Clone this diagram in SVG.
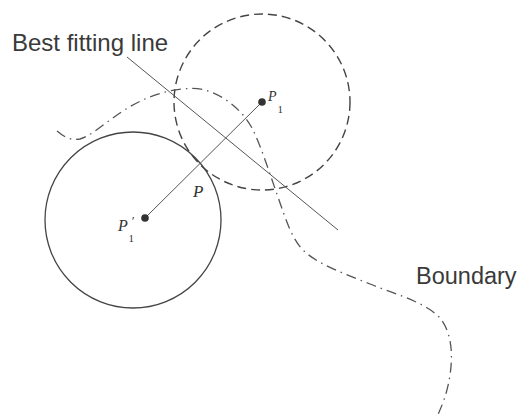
<svg xmlns="http://www.w3.org/2000/svg" width="519" height="417" viewBox="0 0 519 417">
<style>
.lbl{font-family:"Liberation Sans",Arial,sans-serif;fill:#3a3a3a}
.sym{font-family:"Liberation Serif","Times New Roman",serif;font-style:italic;fill:#333}
.sub{font-family:"Liberation Serif","Times New Roman",serif;font-style:normal;fill:#333}
.solid{fill:none;stroke:#444;stroke-width:1.3}
.thin{fill:none;stroke:#555;stroke-width:1}
.dash{fill:none;stroke:#444;stroke-width:1.4;stroke-dasharray:9 5}
.dashdot{fill:none;stroke:#555;stroke-width:1.3;stroke-dasharray:10 5 1.5 5}
.dot{fill:#333}
</style>
<rect width="519" height="417" fill="#fff"/>
<g id="circle-P1prime">
<circle class="solid" cx="133" cy="220" r="88"/>
</g>
<g id="circle-P1">
<circle class="dash" cx="262" cy="102" r="88"/>
</g>
<g id="boundary">
<path class="dashdot" d="M57,131 C63,136 70,141 80,139 C95,135 115,112 145,99 C165,90 190,86 205,90 C225,96 242,110 252,128 C262,148 270,175 278,197 C286,220 292,240 305,252 C320,265 345,274 370,284 C395,294 425,302 440,318 C452,333 453,355 450,375 C447,395 442,405 437,417"/>
<text class="lbl" x="416" y="284" font-size="23.5">Boundary</text>
</g>
<g id="best-fitting-line">
<line class="thin" x1="127" y1="57" x2="338" y2="230"/>
<text class="lbl" x="12" y="51" font-size="24">Best fitting line</text>
</g>
<g id="connectors">
<line class="thin" x1="262" y1="102" x2="145" y2="218"/>
</g>
<g id="P1">
<circle class="dot" cx="262" cy="102" r="3.8"/>
<text class="sym" x="268" y="101" font-size="14">P</text>
<text class="sub" x="277.5" y="113" font-size="11">1</text>
</g>
<g id="P1prime">
<circle class="dot" cx="145" cy="218" r="3.8"/>
<text class="sym" x="118" y="231" font-size="16">P</text>
<text class="sym" x="131" y="225" font-size="13">′</text>
<text class="sub" x="128.5" y="242" font-size="11">1</text>
</g>
<g id="P">
<text class="sym" x="193" y="197" font-size="17">P</text>
</g>
</svg>
